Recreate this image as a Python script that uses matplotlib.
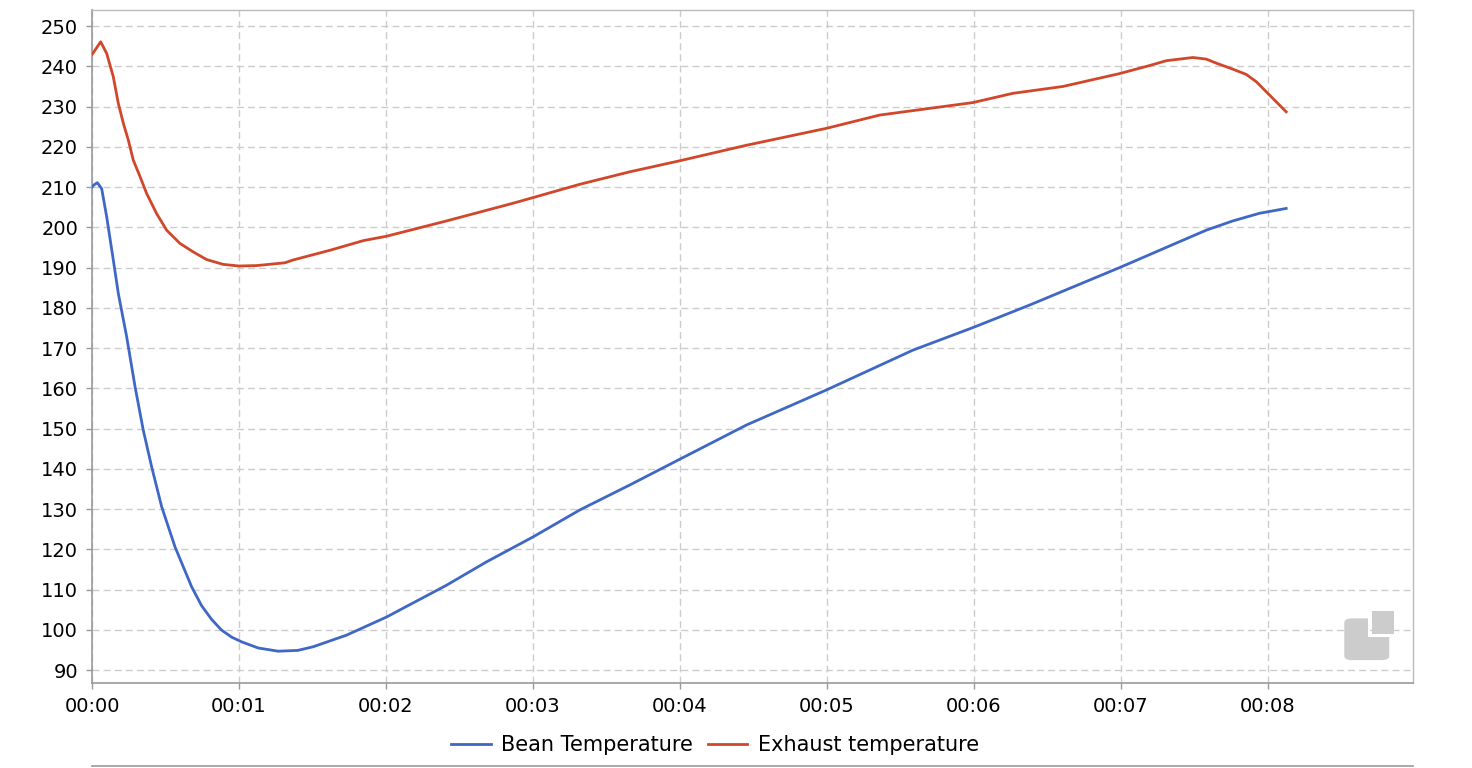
import matplotlib
matplotlib.use("Agg")
import matplotlib.pyplot as plt
from matplotlib.patches import FancyBboxPatch, Rectangle
from matplotlib.lines import Line2D

# ---- data (time in minutes, temperatures) ----
bean_t = [0.0, 0.012, 0.036, 0.066, 0.10, 0.145, 0.179, 0.236, 0.293, 0.349, 0.406,
          0.474, 0.565, 0.678, 0.746, 0.814, 0.88, 0.95, 1.02, 1.131, 1.267, 1.40,
          1.505, 1.733, 2.005, 2.413, 2.685, 3.002, 3.32, 3.66, 3.995, 4.454, 4.998,
          5.587, 5.995, 6.381, 6.993, 7.424, 7.583, 7.764, 7.946, 8.127]
bean_v = [210.0, 210.5, 211.1, 209.6, 202.6, 191.9, 183.6, 172.8, 160.4, 149.6, 140.5,
          130.6, 120.6, 110.7, 106.0, 102.6, 100.0, 98.2, 97.0, 95.5, 94.7, 94.9,
          95.8, 98.7, 103.2, 111.1, 116.9, 123.1, 129.8, 136.0, 142.3, 150.9, 159.6,
          169.5, 175.1, 180.7, 190.0, 196.8, 199.3, 201.6, 203.5, 204.7]

exh_t = [0.0, 0.009, 0.059, 0.10, 0.145, 0.179, 0.213, 0.247, 0.281, 0.327, 0.372,
         0.44, 0.508, 0.599, 0.689, 0.78, 0.893, 1.0, 1.12, 1.313, 1.369, 1.619,
         1.846, 2.005, 2.413, 2.866, 3.002, 3.32, 3.66, 3.995, 4.454, 4.998, 5.361,
         5.995, 6.267, 6.607, 6.993, 7.197, 7.311, 7.492, 7.583, 7.651, 7.764, 7.855,
         7.923, 7.991, 8.059, 8.127]
exh_v = [243.0, 243.4, 246.1, 243.2, 237.4, 230.8, 225.9, 221.7, 216.7, 212.6, 208.4,
         203.4, 199.3, 196.0, 193.9, 192.0, 190.8, 190.4, 190.5, 191.2, 191.9, 194.3,
         196.7, 197.8, 201.6, 206.0, 207.4, 210.7, 213.8, 216.5, 220.4, 224.6, 227.9,
         231.0, 233.3, 235.0, 238.2, 240.2, 241.4, 242.2, 241.8, 240.8, 239.3, 238.0,
         236.2, 233.7, 231.2, 228.7]

x_ticks = [0, 1, 2, 3, 4, 5, 6, 7, 8]
x_tick_labels = ["00:00", "00:01", "00:02", "00:03", "00:04", "00:05", "00:06", "00:07", "00:08"]
y_ticks = list(range(90, 251, 10))

series_names = ["Bean Temperature", "Exhaust temperature"]
colors = ["#3f67c6", "#d0472a"]

# ---- figure ----
W, H = 1472, 768
fig = plt.figure(figsize=(W / 100, H / 100), dpi=100)
ax = fig.add_axes([92 / W, 1 - 683 / H, (1413 - 92) / W, (683 - 10) / H])

ax.plot(bean_t, bean_v, color=colors[0], lw=2.0, label=series_names[0], zorder=3,
        solid_joinstyle="round")
ax.plot(exh_t, exh_v, color=colors[1], lw=2.0, label=series_names[1], zorder=3,
        solid_joinstyle="round")

ax.set_xlim(0, 8.99)
ax.set_ylim(86.8, 254)
ax.set_xticks(x_ticks)
ax.set_xticklabels(x_tick_labels)
ax.set_yticks(y_ticks)

ax.grid(True, color="#cccccc", lw=1.0, linestyle=(0, (5, 3)))
ax.tick_params(axis="both", labelsize=14, colors="#999999", labelcolor="black",
               length=4, width=1)
ax.tick_params(axis="y", pad=6)
ax.tick_params(axis="x", pad=6)

for side in ["left", "bottom"]:
    ax.spines[side].set_color("#999999")
    ax.spines[side].set_linewidth(1.2)
for side in ["top", "right"]:
    ax.spines[side].set_color("#bbbbbb")
    ax.spines[side].set_linewidth(1.0)

# watermark logo (axes fraction coordinates)
ax.add_patch(FancyBboxPatch((0.948, 0.034), 0.034, 0.062,
                            boxstyle="round,pad=0,rounding_size=0.006",
                            transform=ax.transAxes, facecolor="#cccccc",
                            edgecolor="none", zorder=0.5))
ax.add_patch(Rectangle((0.966, 0.068), 0.024, 0.045, transform=ax.transAxes,
                       facecolor="white", edgecolor="none", zorder=0.6))
ax.add_patch(Rectangle((0.969, 0.073), 0.0165, 0.034, transform=ax.transAxes,
                       facecolor="#cccccc", edgecolor="none", zorder=0.7))

leg = fig.legend(loc="center", bbox_to_anchor=(715 / W, 1 - 745 / H), ncol=2,
                 frameon=False, fontsize=15, handlelength=1.9, handletextpad=0.5,
                 columnspacing=0.7)

fig.add_artist(Line2D([92 / W, 1413 / W], [1 - 766 / H, 1 - 766 / H],
                      transform=fig.transFigure, color="#999999", lw=1.2))

fig.savefig("out.png", dpi=100)
